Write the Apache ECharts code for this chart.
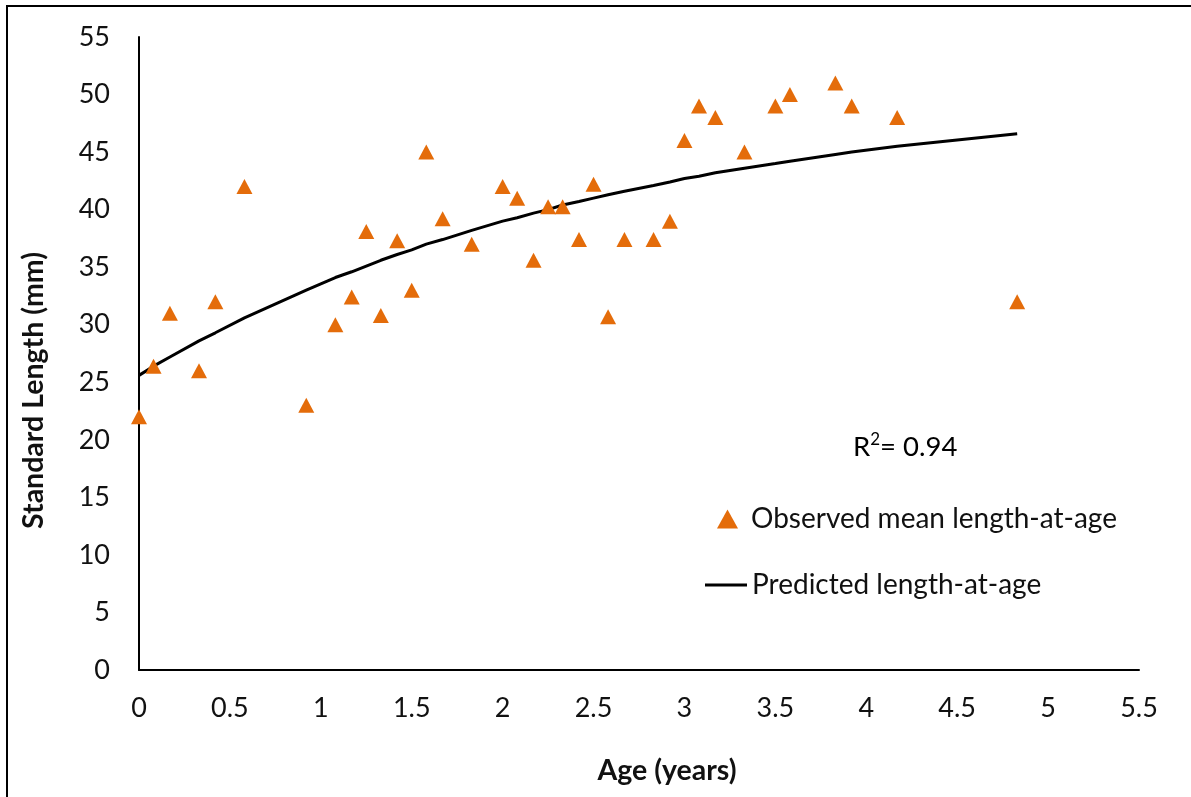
<!DOCTYPE html>
<html>
<head>
<meta charset="utf-8">
<title>Standard length at age</title>
<script src="https://cdn.jsdelivr.net/npm/echarts@6/dist/echarts.min.js"></script>
<style>
  html, body { margin: 0; padding: 0; background: #fff; }
  #chart { width: 1191px; height: 797px; }
</style>
</head>
<body>
<div id="chart"></div>
<script>
// Ages (years) of each sample group
const ages = [0, 0.08, 0.17, 0.33, 0.42, 0.58, 0.92, 1.08, 1.17, 1.25, 1.33, 1.42, 1.5, 1.58, 1.67, 1.83,
  2.0, 2.08, 2.17, 2.25, 2.33, 2.42, 2.5, 2.58, 2.67, 2.83, 2.92, 3.0, 3.08, 3.17, 3.33, 3.5, 3.58,
  3.83, 3.92, 4.17, 4.83];

// Observed mean standard length (mm) at each age
const observed = [22, 26.4, 31, 26, 32, 42, 23, 30, 32.4, 38.1, 30.8, 37.3, 33, 45, 39.2, 37,
  42, 41, 35.6, 40.25, 40.25, 37.4, 42.2, 30.7, 37.4, 37.4, 39, 46, 49, 48, 45, 49, 50,
  51, 49, 48, 32];

// Predicted (fitted growth curve) length (mm) at each age
const predicted = [25.6, 26.4, 27.2, 28.6, 29.3, 30.6, 33.0, 34.1, 34.6, 35.1, 35.6, 36.1, 36.5, 37.0, 37.4, 38.2,
  39.0, 39.3, 39.7, 40.0, 40.4, 40.7, 41.0, 41.3, 41.6, 42.1, 42.4, 42.7, 42.9, 43.2, 43.6, 44.0, 44.2,
  44.8, 45.0, 45.5, 46.6];

const rSquared = '0.94';

const OBS_NAME = 'Observed mean length-at-age';
const PRED_NAME = 'Predicted length-at-age';

const FONT = 'Lato, "Open Sans", sans-serif';
const INK = '#111111';
const ORANGE = '#E46C0A';

const chart = echarts.init(document.getElementById('chart'), null, { renderer: 'canvas' });

chart.setOption({
  animation: false,
  backgroundColor: '#ffffff',
  grid: { left: 139, top: 37, width: 1000, height: 633 },
  xAxis: {
    type: 'value',
    min: 0, max: 5.5, interval: 0.5,
    name: 'Age (years)',
    nameLocation: 'middle',
    nameGap: 86,
    nameTextStyle: { fontFamily: FONT, fontSize: 28.5, fontWeight: 'bold', color: INK, padding: [0, 0, 0, 56] },
    axisLine: { lineStyle: { color: '#000', width: 2 } },
    axisTick: { show: false },
    splitLine: { show: false },
    axisLabel: { fontFamily: FONT, fontSize: 27, color: INK, margin: 25 }
  },
  yAxis: {
    type: 'value',
    min: 0, max: 55, interval: 5,
    name: 'Standard Length (mm)',
    nameLocation: 'middle',
    nameGap: 91,
    nameTextStyle: { fontFamily: FONT, fontSize: 28.5, fontWeight: 'bold', color: INK, padding: [0, 74, 0, 0] },
    axisLine: { show: true, lineStyle: { color: '#000', width: 2 } },
    axisTick: { show: false },
    splitLine: { show: false },
    axisLabel: { fontFamily: FONT, fontSize: 27, color: INK, margin: 29 }
  },
  legend: [
    {
      left: 712,
      top: 500,
      itemWidth: 21,
      itemHeight: 19,
      symbolKeepAspect: false,
      textStyle: { fontFamily: FONT, fontSize: 28, color: INK, padding: [0, 0, 0, 8] },
      data: [{ name: OBS_NAME, icon: 'triangle' }]
    },
    {
      left: 700,
      top: 566,
      itemWidth: 42,
      itemHeight: 3,
      textStyle: { fontFamily: FONT, fontSize: 28, color: INK },
      data: [{ name: PRED_NAME, icon: 'rect' }]
    }
  ],
  graphic: [
    {
      type: 'rect',
      silent: true,
      shape: { x: 7, y: 6, width: 1200, height: 800 },
      style: { fill: 'none', stroke: '#000', lineWidth: 2 }
    },
    {
      type: 'text',
      silent: true,
      left: 853,
      top: 431,
      style: {
        text: '{r|R}{s|2}{r|= ' + rSquared + '}',
        rich: {
          r: { fontFamily: FONT, fontSize: 27.5, color: INK, lineHeight: 32 },
          s: { fontFamily: FONT, fontSize: 17, color: INK, verticalAlign: 'top', lineHeight: 17 }
        }
      }
    }
  ],
  series: [
    {
      name: PRED_NAME,
      type: 'line',
      data: ages.map((a, i) => [a, predicted[i]]),
      symbol: 'none',
      smooth: false,
      lineStyle: { color: '#000', width: 3 },
      itemStyle: { color: '#000' },
      z: 2
    },
    {
      name: OBS_NAME,
      type: 'scatter',
      data: ages.map((a, i) => [a, observed[i]]),
      symbol: 'triangle',
      symbolSize: [16, 15],
      itemStyle: { color: ORANGE, opacity: 1 },
      z: 3
    }
  ]
});
</script>
</body>
</html>
